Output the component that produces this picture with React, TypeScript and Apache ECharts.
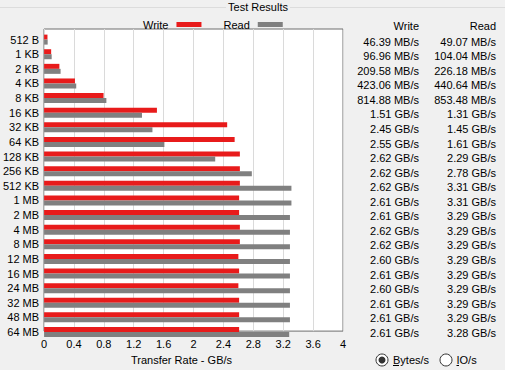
import React, { useEffect, useRef } from "react";
import * as echarts from "echarts";

const categories = ["512 B", "1 KB", "2 KB", "4 KB", "8 KB", "16 KB", "32 KB", "64 KB", "128 KB", "256 KB", "512 KB", "1 MB", "2 MB", "4 MB", "8 MB", "12 MB", "16 MB", "24 MB", "32 MB", "48 MB", "64 MB"];
const writeValues = [46.39, 96.96, 209.58, 423.06, 814.88, 1.51, 2.45, 2.55, 2.62, 2.62, 2.62, 2.61, 2.61, 2.62, 2.62, 2.6, 2.61, 2.6, 2.61, 2.61, 2.61];
const writeUnits = ["MB/s", "MB/s", "MB/s", "MB/s", "MB/s", "GB/s", "GB/s", "GB/s", "GB/s", "GB/s", "GB/s", "GB/s", "GB/s", "GB/s", "GB/s", "GB/s", "GB/s", "GB/s", "GB/s", "GB/s", "GB/s"];
const readValues = [49.07, 104.04, 226.18, 440.64, 853.48, 1.31, 1.45, 1.61, 2.29, 2.78, 3.31, 3.31, 3.29, 3.29, 3.29, 3.29, 3.29, 3.29, 3.29, 3.29, 3.28];
const readUnits = ["MB/s", "MB/s", "MB/s", "MB/s", "MB/s", "GB/s", "GB/s", "GB/s", "GB/s", "GB/s", "GB/s", "GB/s", "GB/s", "GB/s", "GB/s", "GB/s", "GB/s", "GB/s", "GB/s", "GB/s", "GB/s"];
const xMin = 0;
const xMax = 4;
const xInterval = 0.4;

const FONT = '"Liberation Sans", Arial, sans-serif';

const toGB = (v: number, u: string) => (u === "MB/s" ? v / 1024 : v);
const fmt = (v: number, u: string) => v.toFixed(2) + " " + u;

export default function App() {
  const ref = useRef<HTMLDivElement>(null);
  useEffect(() => {
    if (!ref.current) return;
    const chart = echarts.init(ref.current, undefined, { renderer: "svg" });
    const tableTexts: any[] = [];
    const rowY0 = 41.7;
    const rowStep = 14.55;
    tableTexts.push({
      type: "text",
      x: 419,
      y: 26,
      style: { text: "Write", font: "11px " + FONT, fill: "#000", textAlign: "right", textVerticalAlign: "middle" },
    });
    tableTexts.push({
      type: "text",
      x: 496,
      y: 26,
      style: { text: "Read", font: "11px " + FONT, fill: "#000", textAlign: "right", textVerticalAlign: "middle" },
    });
    categories.forEach((_, i) => {
      tableTexts.push({
        type: "text",
        x: 419,
        y: rowY0 + i * rowStep,
        style: { text: fmt(writeValues[i], writeUnits[i]), font: "11px " + FONT, fill: "#000", textAlign: "right", textVerticalAlign: "middle" },
      });
      tableTexts.push({
        type: "text",
        x: 496,
        y: rowY0 + i * rowStep,
        style: { text: fmt(readValues[i], readUnits[i]), font: "11px " + FONT, fill: "#000", textAlign: "right", textVerticalAlign: "middle" },
      });
    });

    const option: any = {
      animation: false,
      backgroundColor: "#f0f0f0",
      textStyle: { fontFamily: FONT },
      legend: {
        data: ["Write", "Read"],
        left: 138,
        top: 14,
        align: "right",
        itemWidth: 25,
        itemHeight: 5,
        itemGap: 22,
        icon: "rect",
        textStyle: { fontSize: 11, color: "#000", fontFamily: FONT, padding: [0, 3, 0, 0] },
      },
      grid: [
        { left: 44, right: 162, top: 29, bottom: 29, show: true, backgroundColor: "#fff", borderColor: "#6e6e6e", borderWidth: 1, containLabel: false },
        { left: 44, right: 162, top: 32.3, bottom: 30.7, containLabel: false },
      ],
      xAxis: [
        {
          gridIndex: 0,
          type: "value",
          min: xMin,
          max: xMax,
          interval: xInterval,
          axisLine: { show: false },
          axisTick: { show: false },
          axisLabel: { fontSize: 11, color: "#000", margin: 7, fontFamily: FONT },
          splitLine: { show: true, lineStyle: { color: "#dadada", width: 1 } },
          name: "Transfer Rate - GB/s",
          nameLocation: "middle",
          nameGap: 18,
          nameTextStyle: { fontSize: 11, color: "#000", fontFamily: FONT, padding: [0, 24, 0, 0] },
        },
        { gridIndex: 1, type: "value", min: xMin, max: xMax, show: false, splitLine: { show: false } },
      ],
      yAxis: [
        { gridIndex: 0, type: "value", show: false, splitLine: { show: false } },
        {
          gridIndex: 1,
          type: "category",
          data: categories,
          inverse: true,
          axisLine: { show: false },
          axisTick: { show: false },
          axisLabel: { fontSize: 11, color: "#000", margin: 5, fontFamily: FONT },
          splitLine: { show: false },
        },
      ],
      series: [
        {
          name: "Write",
          type: "bar",
          xAxisIndex: 1,
          yAxisIndex: 1,
          data: writeValues.map((v, i) => toGB(v, writeUnits[i])),
          barWidth: 5,
          barGap: "0%",
          itemStyle: { color: "#e81b1b" },
        },
        {
          name: "Read",
          type: "bar",
          xAxisIndex: 1,
          yAxisIndex: 1,
          data: readValues.map((v, i) => toGB(v, readUnits[i])),
          barWidth: 5,
          barGap: "0%",
          itemStyle: { color: "#808080" },
        },
      ],
      graphic: [
        { type: "line", shape: { x1: 0, y1: 7.5, x2: 505, y2: 7.5 }, style: { stroke: "#dcdcdc", lineWidth: 1 }, z: 1 },
        {
          type: "text",
          x: 258,
          y: 7,
          z: 2,
          style: { text: "Test Results", font: "11px " + FONT, fill: "#000", textAlign: "center", textVerticalAlign: "middle", backgroundColor: "#f0f0f0", padding: [0, 2] },
        },
        ...tableTexts,
        { type: "circle", shape: { cx: 382, cy: 360, r: 6 }, style: { fill: "#fff", stroke: "#333", lineWidth: 1 } },
        { type: "circle", shape: { cx: 382, cy: 360, r: 3.5 }, style: { fill: "#333" } },
        { type: "text", x: 393, y: 360, style: { text: "Bytes/s", font: "11px " + FONT, fill: "#000", textAlign: "left", textVerticalAlign: "middle" } },
        { type: "line", shape: { x1: 393, y1: 365.5, x2: 399, y2: 365.5 }, style: { stroke: "#000", lineWidth: 1 } },
        { type: "circle", shape: { cx: 446, cy: 360, r: 6 }, style: { fill: "#fff", stroke: "#333", lineWidth: 1 } },
        { type: "text", x: 456.5, y: 360, style: { text: "IO/s", font: "11px " + FONT, fill: "#000", textAlign: "left", textVerticalAlign: "middle" } },
        { type: "line", shape: { x1: 456.5, y1: 365.5, x2: 459, y2: 365.5 }, style: { stroke: "#000", lineWidth: 1 } },
      ],
    };
    chart.setOption(option);
    return () => chart.dispose();
  }, []);
  return <div ref={ref} style={{ position: "absolute", left: 0, top: 0, width: 505, height: 370, background: "#f0f0f0" }} />;
}
